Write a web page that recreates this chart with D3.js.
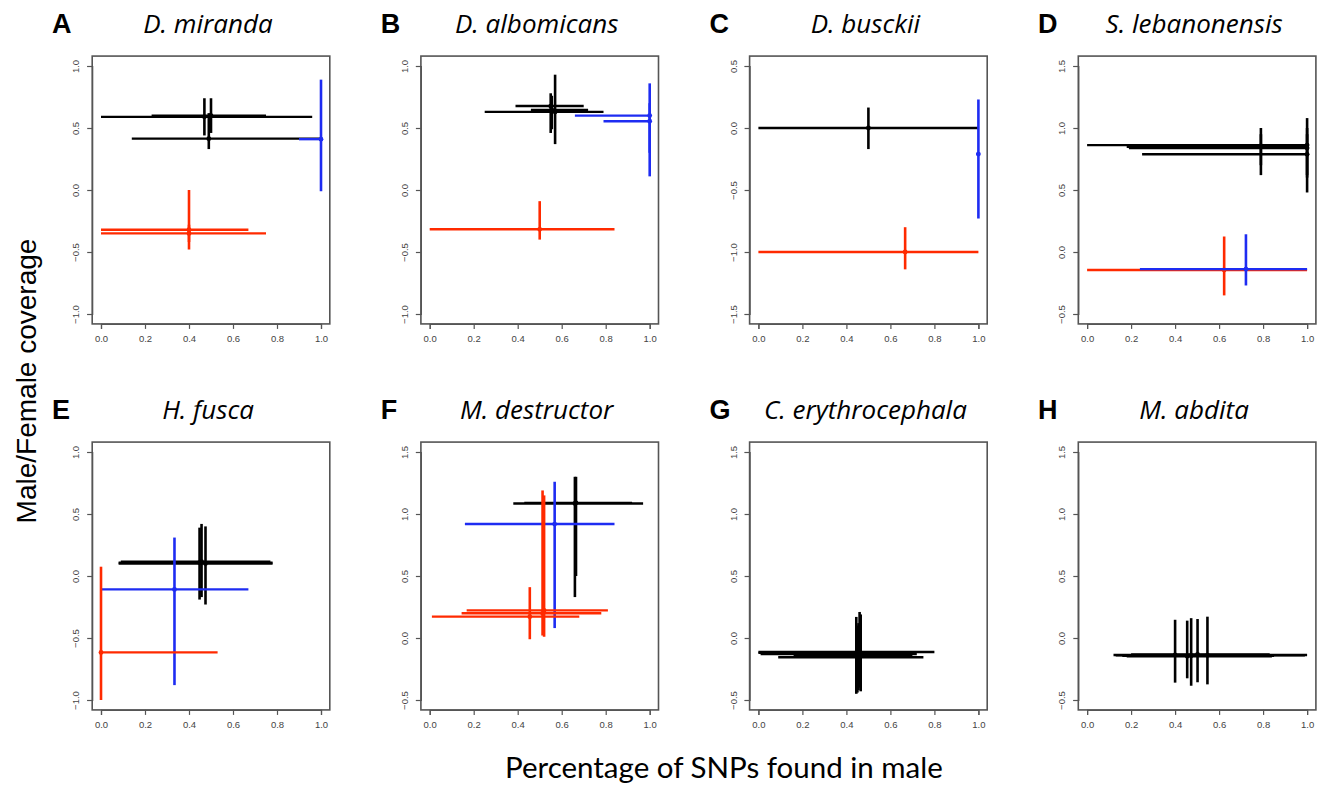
<!DOCTYPE html>
<html>
<head>
<meta charset="utf-8">
<script src="https://cdn.jsdelivr.net/npm/d3@7"></script>
<style>
body { margin: 0; background: #fff; }
</style>
</head>
<body>
<div id="chart"></div>
<script>
var letters = ["A", "B", "C", "D", "E", "F", "G", "H"];
var titles = ["D. miranda", "D. albomicans", "D. busckii", "S. lebanonensis",
              "H. fusca", "M. destructor", "C. erythrocephala", "M. abdita"];
var yDomains = [[-1, 1], [-1, 1], [-1.5, 0.5], [-0.5, 1.5],
                [-1, 1], [-0.5, 1.5], [-0.5, 1.5], [-0.5, 1.5]];
var xTicks = [0, 0.2, 0.4, 0.6, 0.8, 1.0];

// g: k = black, b = blue, r = red
var crossesA = [
  {g: "k", x: 0.47,  xlo: 0.00, xhi: 0.96, y: 0.590,  ylo: 0.44,  yhi: 0.74},
  {g: "k", x: 0.50,  xlo: 0.23, xhi: 0.75, y: 0.600,  ylo: 0.46,  yhi: 0.74},
  {g: "k", x: 0.49,  xlo: 0.14, xhi: 1.00, y: 0.414,  ylo: 0.33,  yhi: 0.62},
  {g: "b", x: 1.00,  xlo: 0.90, xhi: 1.00, y: 0.410,  ylo: -0.01, yhi: 0.89},
  {g: "r", x: 0.40,  xlo: 0.00, xhi: 0.67, y: -0.320, ylo: -0.48, yhi: 0.00},
  {g: "r", x: 0.40,  xlo: 0.00, xhi: 0.75, y: -0.350, ylo: -0.42, yhi: -0.28}
];
var crossesB = [
  {g: "k", x: 0.55,  xlo: 0.39, xhi: 0.70, y: 0.677,  ylo: 0.46,  yhi: 0.78},
  {g: "k", x: 0.555, xlo: 0.46, xhi: 0.72, y: 0.645,  ylo: 0.49,  yhi: 0.76},
  {g: "k", x: 0.57,  xlo: 0.25, xhi: 0.79, y: 0.630,  ylo: 0.37,  yhi: 0.93},
  {g: "b", x: 1.00,  xlo: 0.66, xhi: 1.00, y: 0.600,  ylo: 0.11,  yhi: 0.86},
  {g: "b", x: 1.00,  xlo: 0.79, xhi: 1.00, y: 0.555,  ylo: 0.30,  yhi: 0.70},
  {g: "r", x: 0.50,  xlo: 0.00, xhi: 0.84, y: -0.317, ylo: -0.40, yhi: -0.09}
];
var crossesC = [
  {g: "k", x: 0.50,  xlo: 0.00, xhi: 1.00, y: 0.00,   ylo: -0.17, yhi: 0.165},
  {g: "b", x: 1.00,  xlo: 0.99, xhi: 1.00, y: -0.21,  ylo: -0.73, yhi: 0.23},
  {g: "r", x: 0.667, xlo: 0.00, xhi: 1.00, y: -1.00,  ylo: -1.14, yhi: -0.80}
];
var crossesD = [
  {g: "k", x: 1.00,  xlo: 0.00, xhi: 1.00, y: 0.862,  ylo: 0.48,  yhi: 1.08},
  {g: "k", x: 0.79,  xlo: 0.18, xhi: 1.00, y: 0.848,  ylo: 0.62,  yhi: 1.00},
  {g: "k", x: 1.00,  xlo: 0.19, xhi: 1.00, y: 0.838,  ylo: 0.62,  yhi: 1.00},
  {g: "k", x: 0.79,  xlo: 0.20, xhi: 1.00, y: 0.855,  ylo: 0.70,  yhi: 0.95},
  {g: "k", x: 1.00,  xlo: 0.25, xhi: 1.00, y: 0.788,  ylo: 0.60,  yhi: 0.95},
  {g: "r", x: 0.623, xlo: 0.00, xhi: 1.00, y: -0.145, ylo: -0.35, yhi: 0.125},
  {g: "b", x: 0.722, xlo: 0.24, xhi: 1.00, y: -0.138, ylo: -0.27, yhi: 0.143}
];
var crossesE = [
  {g: "k", x: 0.448, xlo: 0.08, xhi: 0.78, y: 0.108,  ylo: -0.19, yhi: 0.39},
  {g: "k", x: 0.457, xlo: 0.09, xhi: 0.77, y: 0.115,  ylo: -0.17, yhi: 0.42},
  {g: "k", x: 0.475, xlo: 0.08, xhi: 0.78, y: 0.100,  ylo: -0.23, yhi: 0.40},
  {g: "b", x: 0.334, xlo: 0.00, xhi: 0.67, y: -0.108, ylo: -0.88, yhi: 0.31},
  {g: "r", x: 0.00,  xlo: 0.00, xhi: 0.53, y: -0.616, ylo: -1.00, yhi: 0.075}
];
var crossesF = [
  {g: "k", x: 0.66,  xlo: 0.38, xhi: 0.97, y: 1.085,  ylo: 0.33,  yhi: 1.30},
  {g: "k", x: 0.665, xlo: 0.43, xhi: 0.92, y: 1.090,  ylo: 0.50,  yhi: 1.30},
  {g: "b", x: 0.568, xlo: 0.16, xhi: 0.84, y: 0.919,  ylo: 0.08,  yhi: 1.26},
  {g: "r", x: 0.455, xlo: 0.01, xhi: 0.68, y: 0.172,  ylo: -0.01, yhi: 0.41},
  {g: "r", x: 0.513, xlo: 0.145, xhi: 0.78, y: 0.199, ylo: 0.02,  yhi: 1.19},
  {g: "r", x: 0.52,  xlo: 0.168, xhi: 0.81, y: 0.223, ylo: 0.01,  yhi: 1.15}
];
var crossesG = [
  {g: "k", x: 0.445, xlo: 0.00, xhi: 0.70, y: -0.120, ylo: -0.45, yhi: 0.17},
  {g: "k", x: 0.455, xlo: 0.00, xhi: 0.80, y: -0.113, ylo: -0.42, yhi: 0.12},
  {g: "k", x: 0.46,  xlo: 0.09, xhi: 0.75, y: -0.155, ylo: -0.40, yhi: 0.21},
  {g: "k", x: 0.465, xlo: 0.01, xhi: 0.72, y: -0.130, ylo: -0.43, yhi: 0.19},
  {g: "k", x: 0.45,  xlo: 0.16, xhi: 0.70, y: -0.140, ylo: -0.44, yhi: 0.10}
];
var crossesH = [
  {g: "k", x: 0.40,  xlo: 0.12, xhi: 1.00, y: -0.137, ylo: -0.36,  yhi: 0.147},
  {g: "k", x: 0.455, xlo: 0.18, xhi: 0.84, y: -0.148, ylo: -0.325, yhi: 0.14},
  {g: "k", x: 0.473, xlo: 0.16, xhi: 0.85, y: -0.143, ylo: -0.385, yhi: 0.16},
  {g: "k", x: 0.502, xlo: 0.20, xhi: 0.83, y: -0.132, ylo: -0.357, yhi: 0.153},
  {g: "k", x: 0.547, xlo: 0.13, xhi: 0.99, y: -0.140, ylo: -0.374, yhi: 0.172}
];
var crosses = [crossesA, crossesB, crossesC, crossesD, crossesE, crossesF, crossesG, crossesH];

var colors = {k: "#000000", b: "#1e2cf2", r: "#ff2a00"};

var W = 1317, H = 788;
var pw = 220, ph = 248;
var padX = pw * 0.04, padY = ph * 0.04;
var fmt = d3.format(".1f");

var svg = d3.select("#chart")
  .append("svg")
  .attr("width", W)
  .attr("height", H);

letters.forEach(function (L, i) {
  var col = i % 4, row = Math.floor(i / 4);
  var x0 = 101 + col * 328.7;
  var y0 = 66 + row * 386;

  var x = d3.scaleLinear().domain([0, 1]).range([x0, x0 + pw]);
  var y = d3.scaleLinear().domain(yDomains[i]).range([y0 + ph, y0]);
  var yTicks = d3.range(yDomains[i][0], yDomains[i][1] + 0.01, 0.5);

  var g = svg.append("g");

  // panel letter + title
  g.append("text")
    .attr("x", x0 - 49)
    .attr("y", y0 - 33)
    .attr("font-family", "Liberation Sans, Arial, sans-serif")
    .attr("font-weight", "bold")
    .attr("font-size", 27)
    .text(L);
  g.append("text")
    .attr("x", x0 + 107)
    .attr("y", y0 - 33)
    .attr("text-anchor", "middle")
    .attr("font-family", "Open Sans, sans-serif")
    .attr("font-style", "italic")
    .attr("font-size", 26)
    .text(titles[i]);

  // crosses
  var c = g.append("g").selectAll("g.cross")
    .data(crosses[i])
    .enter()
    .append("g")
    .attr("class", "cross");
  c.append("line")
    .attr("x1", function (d) { return x(d.xlo); })
    .attr("x2", function (d) { return x(d.xhi); })
    .attr("y1", function (d) { return y(d.y); })
    .attr("y2", function (d) { return y(d.y); })
    .attr("stroke", function (d) { return colors[d.g]; })
    .attr("stroke-width", 2.4);
  c.append("line")
    .attr("x1", function (d) { return x(d.x); })
    .attr("x2", function (d) { return x(d.x); })
    .attr("y1", function (d) { return y(d.ylo); })
    .attr("y2", function (d) { return y(d.yhi); })
    .attr("stroke", function (d) { return colors[d.g]; })
    .attr("stroke-width", 2.6);
  c.append("circle")
    .attr("cx", function (d) { return x(d.x); })
    .attr("cy", function (d) { return y(d.y); })
    .attr("r", 2.4)
    .attr("fill", function (d) { return colors[d.g]; });

  // box
  g.append("rect")
    .attr("x", x0 - padX)
    .attr("y", y0 - padY)
    .attr("width", pw + 2 * padX)
    .attr("height", ph + 2 * padY)
    .attr("fill", "none")
    .attr("stroke", "#555")
    .attr("stroke-width", 1.6);

  // axes
  var xa = d3.axisBottom(x).tickValues(xTicks).tickFormat(fmt).tickSize(5).tickPadding(6);
  var xg = g.append("g")
    .attr("transform", "translate(0," + (y0 + ph + padY) + ")")
    .call(xa);
  var ya = d3.axisLeft(y).tickValues(yTicks).tickFormat(fmt).tickSize(5).tickPadding(6);
  var yg = g.append("g")
    .attr("transform", "translate(" + (x0 - padX) + ",0)")
    .call(ya);

  [xg, yg].forEach(function (a) {
    a.select(".domain").attr("stroke", "#555").attr("stroke-width", 1.2);
    a.selectAll(".tick line").attr("stroke", "#555").attr("stroke-width", 1.2);
    a.selectAll(".tick text")
      .attr("fill", "#444")
      .attr("font-family", "Liberation Sans, Arial, sans-serif")
      .attr("font-size", 9.5);
  });
  yg.selectAll(".tick text")
    .attr("x", null)
    .attr("dy", null)
    .attr("text-anchor", "middle")
    .attr("transform", "translate(-13,0) rotate(-90)");
});

// shared axis labels
svg.append("text")
  .attr("transform", "translate(36,381) rotate(-90)")
  .attr("text-anchor", "middle")
  .attr("font-family", "Liberation Sans, Arial, sans-serif")
  .attr("font-size", 28)
  .text("Male/Female coverage");

svg.append("text")
  .attr("x", 505)
  .attr("y", 778)
  .attr("font-family", "Lato, sans-serif")
  .attr("font-size", 29.5)
  .text("Percentage of SNPs found in male");
</script>
</body>
</html>
